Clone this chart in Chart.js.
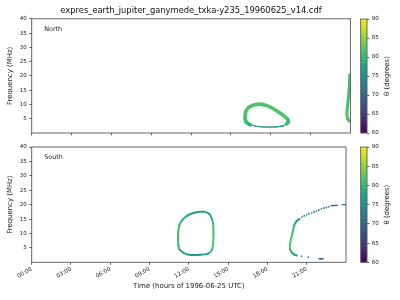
<!DOCTYPE html>
<html><head><meta charset="utf-8">
<script src="https://cdn.jsdelivr.net/npm/chart.js@4.4.0/dist/chart.umd.min.js"></script>
<style>
html,body{margin:0;padding:0;background:#fff;width:400px;height:300px;overflow:hidden;position:relative}
canvas{position:absolute}
</style></head><body>
<canvas id="north" width="382" height="143" style="left:0;top:0;width:382px;height:143px"></canvas>
<canvas id="south" width="350" height="160" style="left:0;top:140px;width:350px;height:160px"></canvas>
<canvas id="cbN" width="45" height="145" style="left:355px;top:0;width:45px;height:145px"></canvas>
<canvas id="cbS" width="45" height="160" style="left:355px;top:140px;width:45px;height:160px"></canvas>
<script>
// ---------- data ----------
const titleText = 'expres_earth_jupiter_ganymede_txka-y235_19960625_v14.cdf';
const panelLabels = ['North', 'South'];
const xTickHours = [0, 3, 6, 9, 12, 15, 18, 21];
const yTickMHz = [5, 10, 15, 20, 25, 30, 35, 40];
const cbTicks = [60, 65, 70, 75, 80, 85, 90];

// North: oval, thick upper arc
const northUpperHours = [16.45, 16.15, 16.07, 16.09, 16.20, 16.42, 16.78, 17.22, 17.70, 18.20, 18.70, 19.10, 19.33, 19.30, 19.20];
const northUpperFreq  = [2.9,   3.8,   5.2,   6.8,   8.2,   9.2,   9.9,   10.1,  9.6,   8.5,   7.0,   5.6,   4.4,   3.7,   3.2];
const northUpperTheta = [79,    80.5,  81.5,  81.5,  81.5,  81.5,  81.5,  81.5,  81.5,  81.5,  81.5,  81.5,  81,    80.5,  79.5];
// North: oval, thin lower arc
const northLowerHours = [19.20, 18.95, 18.50, 18.00, 17.40, 16.85, 16.45];
const northLowerFreq  = [3.2,   2.55,  2.2,   2.1,   2.1,   2.4,   2.9];
const northLowerTheta = [77,    76.5,  76.5,  76.5,  76.5,  77,    78];
// North: band at the right edge
const northEdgeHours = [23.95, 23.92, 23.88, 23.82, 23.76, 23.74, 23.80, 23.90];
const northEdgeFreq  = [20.3,  17.0,  14.0,  11.0,  8.5,   6.5,   5.0,   4.2];
const northEdgeTheta = [81,    81,    81,    81,    81.5,  81.5,  81,    80];

// South: closed oval
const southRingHours = [11.20, 11.17, 11.19, 11.28, 11.50, 11.86, 12.34, 12.84, 13.22, 13.56, 13.76, 13.86, 13.88, 13.86, 13.76, 13.45, 12.84, 12.00, 11.55, 11.28, 11.20];
const southRingFreq  = [5.9,   8.0,   10.5,  12.9,  14.7,  16.1,  17.1,  17.5,  17.5,  16.8,  15.1,  13.0,  10.0,  7.0,   4.3,   3.0,   2.6,   2.6,   3.4,   4.5,   5.9];
const southRingTheta = [81,    81,    81,    80,    79,    77.5,  76.5,  76.5,  76.5,  77.5,  80,    81,    81.5,  81.5,  80,    78,    77,    77,    78,    80,    81];
// South: hook near 20h
const southHookHours = [20.45, 20.22, 20.05, 19.93, 19.81, 19.71, 19.74, 19.86, 20.04, 20.25];
const southHookFreq  = [15.0,  14.2,  12.9,  10.5,  8.2,   5.9,   4.4,   3.4,   2.75,  2.35];
const southHookTheta = [76,    78,    80,    81,    81.5,  81.5,  80,    78,    77,    76];
// South: sparse points
const southDotsUpHours = [20.62, 20.81, 20.99, 21.16, 21.37, 21.57, 21.74, 21.92, 22.12, 22.32, 22.50, 22.67];
const southDotsUpFreq  = [15.7,  16.1,  16.4,  16.8,  17.1,  17.5,  17.8,  18.1,  18.5,  18.8,  19.0,  19.3];
const southDotsUpTheta = [75.5,  75,    74.5,  74,    73.5,  73,    72.5,  72,    71.5,  71,    70.5,  70];
const southDashUpHours = [22.85, 23.35];
const southDashUpFreq  = [19.65, 19.75];
const southDashUpTheta = [69.5, 69.5];
const southDashEndHours = [23.70, 24.0];
const southDashEndFreq  = [20.0, 20.0];
const southDashEndTheta = [72, 72];
const southDotsLowHours = [20.61, 21.12];
const southDotsLowFreq  = [2.1, 1.7];
const southDotsLowTheta = [75.5, 74];
const southDashLowHours = [21.95, 22.25];
const southDashLowFreq  = [1.25, 1.25];
const southDashLowTheta = [67, 67];

// ---------- helpers ----------
const VIRIDIS = ['#440154','#482475','#414487','#355f8d','#2a788e','#21918c','#22a884','#44bf70','#7ad151','#bddf26','#fde725'];
const TMIN = 60, TMAX = 90;
function hex2rgb(h){return [parseInt(h.slice(1,3),16),parseInt(h.slice(3,5),16),parseInt(h.slice(5,7),16)];}
function viridis(v){
  let t = (v - TMIN) / (TMAX - TMIN); t = Math.max(0, Math.min(1, t));
  const p = t * (VIRIDIS.length - 1), i = Math.min(Math.floor(p), VIRIDIS.length - 2), f = p - i;
  const a = hex2rgb(VIRIDIS[i]), b = hex2rgb(VIRIDIS[i+1]);
  return 'rgb(' + a.map((c,k)=>Math.round(c + (b[k]-c)*f)).join(',') + ')';
}
function pts(h, f){ return h.map((x,i)=>({x:x, y:f[i]})); }
function lineSet(h, f, th, width){
  return {type:'line', data:pts(h,f), showLine:true, pointRadius:0, borderWidth:width, tension:0.3,
    borderCapStyle:'round', borderJoinStyle:'round', clip:0,
    borderColor: viridis(th[0]),
    segment:{borderColor: c => viridis(th[c.p0DataIndex])}};
}
function dotSet(h, f, th){
  return {type:'scatter', data:pts(h,f), showLine:false, pointStyle:'rect', pointRadius:1.1, borderWidth:0,
    pointBackgroundColor: th.map(viridis), backgroundColor: th.map(viridis), clip:0};
}

Chart.defaults.font.family = "'DejaVu Sans', sans-serif";
Chart.defaults.color = '#222';
Chart.defaults.animation = false;
Chart.defaults.events = [];
const AXC = '#555';
const TICKF = 5.6, LABF = 6.94;

const framePlugin = {
  id:'frame',
  afterDatasetsDraw(chart, args, opts){
    const a = chart.chartArea, ctx = chart.ctx;
    ctx.save();
    ctx.strokeStyle = AXC; ctx.lineWidth = 0.9;
    ctx.strokeRect(a.left, a.top, a.right - a.left, a.bottom - a.top);
    if (opts.label){
      ctx.fillStyle = '#222';
      ctx.font = "6.4px 'DejaVu Sans'";
      ctx.textBaseline = 'middle'; ctx.textAlign = 'left';
      ctx.fillText(opts.label, a.left + 12.6, a.top + 10.5);
    }
    ctx.restore();
  }
};

function panel(id, datasets, label, showX, padTop, xH, title){
  const cfg = {
    type:'scatter',
    data:{datasets:datasets},
    options:{
      responsive:false, devicePixelRatio:1,
      layout:{padding:{left:0,right:0,top:padTop,bottom:0}},
      plugins:{legend:{display:false}, tooltip:{enabled:false},
        title: title ? {display:true, text:title, color:'#111', font:{size:8.33, weight:'normal'}, padding:{top:6,bottom:2.8}} : {display:false},
        frame:{label:label}},
      scales:{
        x:{type:'linear', min:0, max:24,
          afterBuildTicks: s => { s.ticks = xTickHours.map(v=>({value:v})); },
          afterFit: s => { s.height = xH; },
          grid:{display:true, drawOnChartArea:false, drawTicks:true, tickLength:2.4, color:AXC, lineWidth:0.9},
          border:{display:false},
          ticks:{display:showX, minRotation:30, maxRotation:30, padding:1, font:{size:TICKF}, autoSkip:false,
            callback: v => String(v).padStart(2,'0') + ':00'},
          title:{display:showX, text:'Time (hours of 1996-06-25 UTC)', font:{size:LABF}, padding:{top:0,bottom:10}}
        },
        y:{type:'linear', min:0, max:40,
          afterBuildTicks: s => { s.ticks = yTickMHz.map(v=>({value:v})); },
          afterFit: s => { s.width = 31.7; },
          grid:{display:true, drawOnChartArea:false, drawTicks:true, tickLength:2.4, color:AXC, lineWidth:0.9},
          border:{display:false},
          ticks:{padding:2.4, font:{size:TICKF}},
          title:{display:true, text:'Frequency (MHz)', font:{size:LABF}, padding:{top:5.8,bottom:0}}
        }
      }
    },
    plugins:[framePlugin]
  };
  if (title){
    cfg.options.scales.pad = {type:'linear', position:'right', display:true,
      afterFit: s => { s.width = 31.6; },
      grid:{display:false}, border:{display:false}, ticks:{display:false}};
  }
  return new Chart(document.getElementById(id), cfg);
}

panel('north', [
  lineSet(northUpperHours, northUpperFreq, northUpperTheta, 3.6),
  lineSet(northLowerHours, northLowerFreq, northLowerTheta, 1.4),
  lineSet(northEdgeHours, northEdgeFreq, northEdgeTheta, 3.0)
], panelLabels[0], false, 0, 10, titleText);

panel('south', [
  lineSet(southRingHours, southRingFreq, southRingTheta, 2.0),
  lineSet(southHookHours, southHookFreq, southHookTheta, 2.0),
  dotSet(southDotsUpHours, southDotsUpFreq, southDotsUpTheta),
  lineSet(southDashUpHours, southDashUpFreq, southDashUpTheta, 1.4),
  lineSet(southDashEndHours, southDashEndFreq, southDashEndTheta, 1.4),
  dotSet(southDotsLowHours, southDotsLowFreq, southDotsLowTheta),
  lineSet(southDashLowHours, southDashLowFreq, southDashLowTheta, 1.4)
], panelLabels[1], true, 7, 37.7, null);

// ---------- colour bars ----------
const cbPlugin = {
  id:'cbframe',
  afterDraw(chart){
    const a = chart.chartArea, ctx = chart.ctx;
    ctx.save();
    ctx.strokeStyle = AXC; ctx.lineWidth = 0.9;
    ctx.strokeRect(a.left, a.top, a.right - a.left, a.bottom - a.top);
    ctx.translate(32, (a.top + a.bottom) / 2);
    ctx.rotate(-Math.PI / 2);
    ctx.fillStyle = '#222'; ctx.font = LABF + "px 'DejaVu Sans'";
    ctx.textAlign = 'center'; ctx.textBaseline = 'middle';
    ctx.fillText('\u03b8 (degrees)', 0, 0);
    ctx.restore();
  }
};
function colorbar(id, padTop, padBottom){
  return new Chart(document.getElementById(id), {
    type:'bar',
    data:{labels:['θ'], datasets:[{data:[[TMIN, TMAX]], barPercentage:1, categoryPercentage:1, borderWidth:0,
      backgroundColor: c => {
        const a = c.chart.chartArea; if (!a) return VIRIDIS[5];
        const g = c.chart.ctx.createLinearGradient(0, a.bottom, 0, a.top);
        VIRIDIS.forEach((col,i)=>g.addColorStop(i/(VIRIDIS.length-1), col));
        return g;
      }}]},
    options:{
      responsive:false, devicePixelRatio:1,
      layout:{padding:{left:5.7, right:0, top:padTop, bottom:padBottom}},
      plugins:{legend:{display:false}, tooltip:{enabled:false}},
      scales:{
        x:{display:false},
        y:{position:'right', min:TMIN, max:TMAX,
          afterBuildTicks: s => { s.ticks = cbTicks.map(v=>({value:v})); },
          afterFit: s => { s.width = 33; },
          grid:{display:true, drawOnChartArea:false, drawTicks:true, tickLength:2.4, color:AXC, lineWidth:0.9},
          border:{display:false},
          ticks:{padding:2.4, font:{size:TICKF}}}
      }
    },
    plugins:[cbPlugin]
  });
}
colorbar('cbN', 19, 12);
colorbar('cbS', 7, 37.7);
</script>
</body></html>
